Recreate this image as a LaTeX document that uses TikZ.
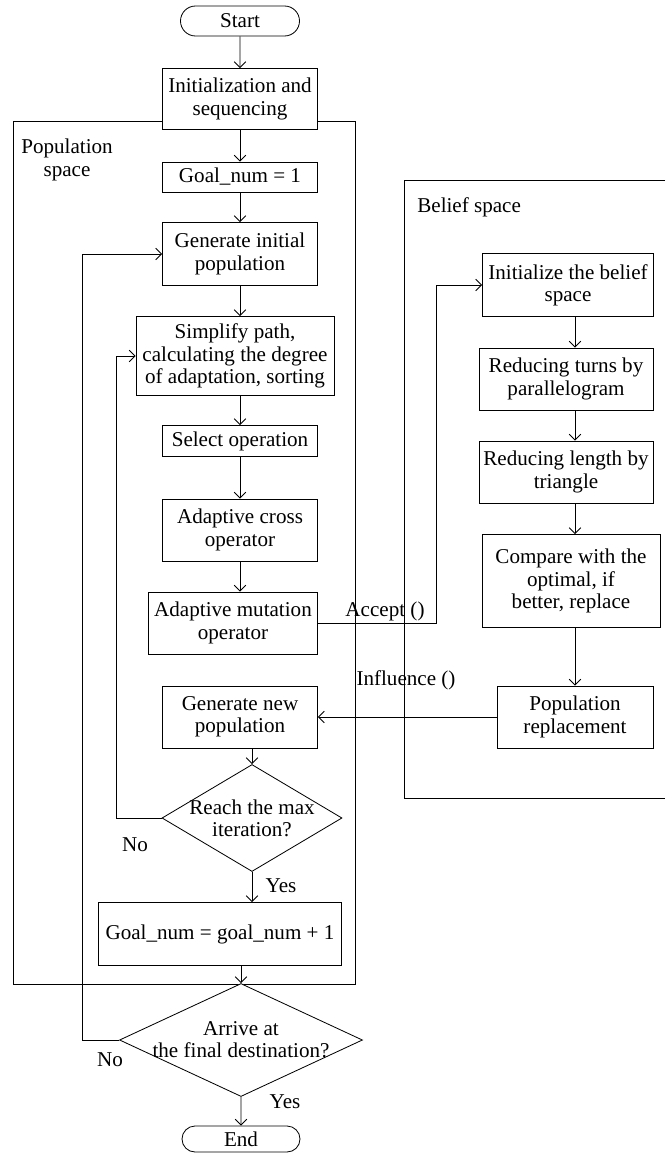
\documentclass[tikz,border=0pt]{standalone}
\usepackage{fontspec}
\setmainfont{Liberation Serif}
\usetikzlibrary{arrows.meta,positioning,shapes.misc,shapes.geometric}

\begin{document}
\begin{tikzpicture}[x=0.03cm,y=-0.03cm, line width=0.7pt,
  font=\fontsize{18}{19}\selectfont, >={Straight Barb[length=5pt,width=10pt]},
  sz/.style 2 args={minimum width=#1*0.03cm,minimum height=#2*0.03cm},
  box/.style={draw,fill=white,align=center,inner sep=1pt},
  term/.style={draw,fill=white,rounded rectangle,inner sep=0pt},
  dec/.style={draw,fill=white,diamond,align=center,inner ysep=0pt}]
  \useasboundingbox (0,0) rectangle (665,1153);
% --- spaces ---
  \draw (13,121) rectangle (355,984);
  \draw (665,180) -- (404,180) -- (404,798) -- (665,798);
  \node[align=center] (popspace) at (67,160) {Population\\space};
  \node[anchor=west] (belspace) at (413,207) {Belief space};
% --- population space ---
  \node[term,sz={119}{30}] (start) at (240,21) {Start};
  \node[box,sz={155}{61}] (init) at (240,99) {Initialization and\\sequencing};
  \node[box,sz={155}{30}] (goal) at (240,177) {Goal\_num = 1};
  \node[box,sz={155}{63}] (geninit) at (240,254) {Generate initial\\population};
  \node[box,sz={198}{79}] (simp) at (235,356) {Simplify path,\\calculating the degree\\of adaptation, sorting};
  \node[box,sz={155}{31}] (sel) at (240,441) {Select operation};
  \node[box,sz={155}{62}] (cross) at (240,530) {Adaptive cross\\operator};
  \node[box,sz={169}{62}] (mut) at (233,623) {Adaptive mutation\\operator};
  \node[box,sz={155}{62}] (gennew) at (240,717) {Generate new\\population};
  \node[dec,sz={180}{107},shape aspect=1.68,inner xsep=-4pt] (reach) at (252,818) {Reach the max\\iteration?};
  \node[box,sz={243}{63}] (inc) at (220,934) {Goal\_num = goal\_num + 1};
  \node[dec,sz={243}{113},shape aspect=2.15,inner xsep=-6pt] (arrive) at (241,1040) {Arrive at\\the final destination?};
  \node[term,sz={118}{26}] (end) at (241,1139) {End};
% --- belief space ---
  \node[box,sz={171}{63}] (initb) at (568,285) {Initialize the belief\\space};
  \node[box,sz={174}{62}] (turns) at (566,379) {Reducing turns by\\parallelogram};
  \node[box,sz={174}{62}] (length) at (566,472) {Reducing length by\\triangle};
  \node[box,sz={178}{93}] (comp) at (571,581) {Compare with the\\optimal, if\\better, replace};
  \node[box,sz={156}{62}] (repl) at (575,717) {Population\\replacement};
% --- connectors ---
  \draw[->] (start) -- (init);
  \draw[->] (init) -- (goal);
  \draw[->] (goal) -- (geninit);
  \draw[->] (geninit.south) -- (geninit.south |- simp.north);
  \draw[->] (sel.north |- simp.south) -- (sel.north);
  \draw[->] (sel) -- (cross);
  \draw[->] (cross.south) -- (cross.south |- mut.north);
  \draw[->] (gennew.south -| reach) -- (reach);
  \draw[->] (reach) -- (reach |- inc.north);
  \draw[->] (inc.south -| arrive) -- (arrive);
  \draw[->] (arrive) -- (end);
  \draw[->] (reach.west) -- ++(-45,0) |- (simp.west);
  \draw[->] (arrive.west) -- ++(-37,0) |- (geninit.west);
  \draw[->] (mut.east) -- ++(118,0) |- (initb.west);
  \draw[->] (repl.west) -- (gennew.east);
  \draw[->] (initb.south -| repl) -- (turns.north -| repl);
  \draw[->] (turns.south -| repl) -- (length.north -| repl);
  \draw[->] (length.south -| repl) -- (comp.north -| repl);
  \draw[->] (comp.south -| repl) -- (repl);
  \node (acc) at (385,611) {Accept ()};
  \node (infl) at (406,680) {Influence ()};
  \node (no1) at (135,845) {No};
  \node (yes1) at (281,886) {Yes};
  \node (no2) at (110,1060) {No};
  \node (yes2) at (285,1102) {Yes};
\end{tikzpicture}
\end{document}
